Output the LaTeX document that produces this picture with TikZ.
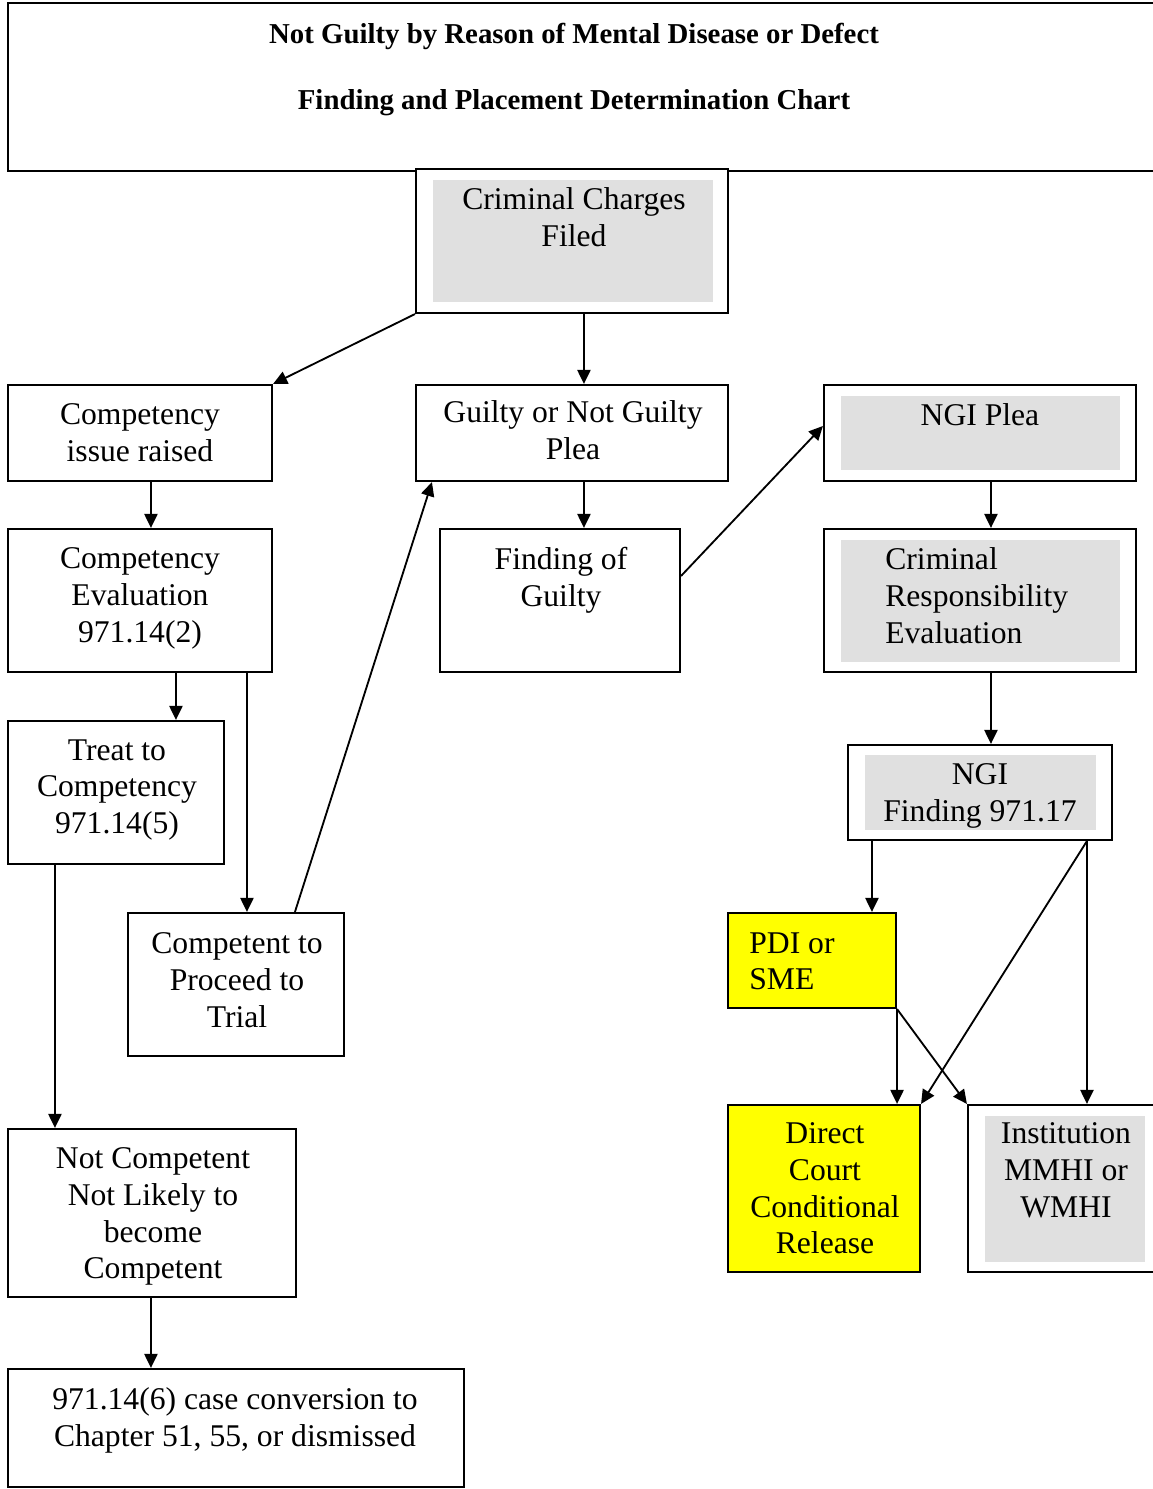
\documentclass[tikz,border=0pt]{standalone}
\usepackage{fontspec}
\setmainfont{Liberation Serif}
\usetikzlibrary{fit,calc,arrows.meta}
\definecolor{boxgray}{RGB}{224,224,224}
\definecolor{boxyellow}{RGB}{255,255,0}
\tikzset{
  frame/.style={draw=black, line width=1.2pt, inner sep=0pt, fill=white},
  yframe/.style={frame, fill=boxyellow},
  shade/.style={draw=none, fill=boxgray, inner sep=0pt},
  txt/.style={font=\fontsize{18}{21}\selectfont, align=center, inner sep=0pt, anchor=north},
  ltxt/.style={font=\fontsize{18}{21}\selectfont, align=left, inner sep=0pt, anchor=north west},
  ttl/.style={font=\fontsize{16.4}{19}\selectfont\bfseries, inner sep=0pt, anchor=base},
  arr/.style={line width=1.05pt, -{Triangle[length=8pt,width=7.5pt]}},
}
\begin{document}
\begin{tikzpicture}[x=0.02cm, y=-0.02cm]
\useasboundingbox (0,0) rectangle (1153,1489);
\clip (0,0) rectangle (1153,1489);
\fill[white] (0,0) rectangle (1153,1489);

% title
\node[frame, fit={(8,3) (1170,171)}] (title) {};
\node[ttl] (t1) at (574,43) {Not Guilty by Reason of Mental Disease or Defect};
\node[ttl] (t2) at (574,109) {Finding and Placement Determination Chart};

% boxes
\node[frame, fit={(416,169) (728,313)}] (ccf) {};
\node[shade, fit={(433,180) (713,302)}] (ccfin) {};
\node[txt] (ccft) at (574,187) {Criminal Charges\\Filed};

\node[frame, fit={(8,385) (272,481)}] (cir) {};
\node[txt] (cirt) at (140,403) {Competency\\issue raised};

\node[frame, fit={(416,385) (728,481)}] (gnp) {};
\node[txt] (gnpt) at (573,400) {Guilty or Not Guilty\\Plea};

\node[frame, fit={(824,385) (1136,481)}] (ngp) {};
\node[shade, fit={(841,396) (1120,470)}] (ngpin) {};
\node[txt] (ngpt) at (980,403) {NGI Plea};

\node[frame, fit={(8,529) (272,672)}] (cee) {};
\node[txt] (ceet) at (140,547) {Competency\\Evaluation\\971.14(2)};

\node[frame, fit={(440,529) (680,672)}] (fog) {};
\node[txt] (fogt) at (561,547) {Finding of\\Guilty};

\node[frame, fit={(824,529) (1136,672)}] (cre) {};
\node[shade, fit={(841,540) (1120,662)}] (crein) {};
\node[ltxt] (cret) at (885,547) {Criminal\\Responsibility\\Evaluation};

\node[frame, fit={(8,721) (224,864)}] (ttc) {};
\node[txt] (ttct) at (117,739) {Treat to\\Competency\\971.14(5)};

\node[frame, fit={(848,745) (1112,840)}] (ngf) {};
\node[shade, fit={(865,755) (1096,830)}] (ngfin) {};
\node[txt] (ngft) at (980,763) {NGI\\Finding 971.17};

\node[frame, fit={(128,913) (344,1056)}] (ctp) {};
\node[txt] (ctpt) at (237,932) {Competent to\\Proceed to\\Trial};

\node[yframe, fit={(728,913) (896,1008)}] (pdi) {};
\node[ltxt] (pdit) at (749,932) {PDI or\\SME};

\node[yframe, fit={(728,1105) (920,1272)}] (dcc) {};
\node[txt] (dcct) at (825,1122) {Direct\\Court\\Conditional\\Release};

\node[frame, fit={(968,1105) (1170,1272)}] (ins) {};
\node[shade, fit={(985,1116) (1145,1262)}] (insin) {};
\node[txt] (inst) at (1066,1122) {Institution\\MMHI or\\WMHI};

\node[frame, fit={(8,1129) (296,1297)}] (ncl) {};
\node[txt] (nclt) at (153,1147) {Not Competent\\Not Likely to\\become\\Competent};

\node[frame, fit={(8,1369) (464,1487)}] (cnv) {};
\node[txt] (cnvt) at (235,1387) {971.14(6) case conversion to\\Chapter 51, 55, or dismissed};

% connectors
\draw[arr] (ccf.south west) -- (cir.north east);
\draw[arr] ($(ccf.south west)+(169,0)$) -- ($(gnp.north west)+(169,0)$);
\draw[arr] ($(cir.south west)+(144,0)$) -- ($(cee.north west)+(144,0)$);
\draw[arr] ($(gnp.south west)+(169,0)$) -- ($(fog.north west)+(145,0)$);
\draw[arr] ($(fog.north east)+(0,48)$) -- ($(ngp.north west)+(0,42)$);
\draw[arr] ($(ngp.south west)+(168,0)$) -- ($(cre.north west)+(168,0)$);
\draw[arr] ($(cre.south west)+(168,0)$) -- ($(ngf.north west)+(144,0)$);
\draw[arr] ($(cee.south west)+(169,0)$) -- ($(ttc.north west)+(169,0)$);
\draw[arr] ($(cee.south west)+(240,0)$) -- ($(ctp.north west)+(120,0)$);
\draw[arr] ($(ctp.north west)+(168,0)$) -- ($(gnp.south west)+(17,0)$);
\draw[arr] ($(ttc.south west)+(48,0)$) -- ($(ncl.north west)+(48,0)$);
\draw[arr] ($(ncl.south west)+(144,0)$) -- ($(cnv.north west)+(144,0)$);
\draw[arr] ($(ngf.south west)+(25,0)$) -- ($(pdi.north west)+(145,0)$);
\draw[arr] ($(ngf.south west)+(240,0)$) -- (dcc.north east);
\draw[arr] ($(ngf.south west)+(240,0)$) -- ($(ins.north west)+(120,0)$);
\draw[arr] (pdi.south east) -- ($(dcc.north east)+(-24,0)$);
\draw[arr] (pdi.south east) -- (ins.north west);
\end{tikzpicture}
\end{document}
